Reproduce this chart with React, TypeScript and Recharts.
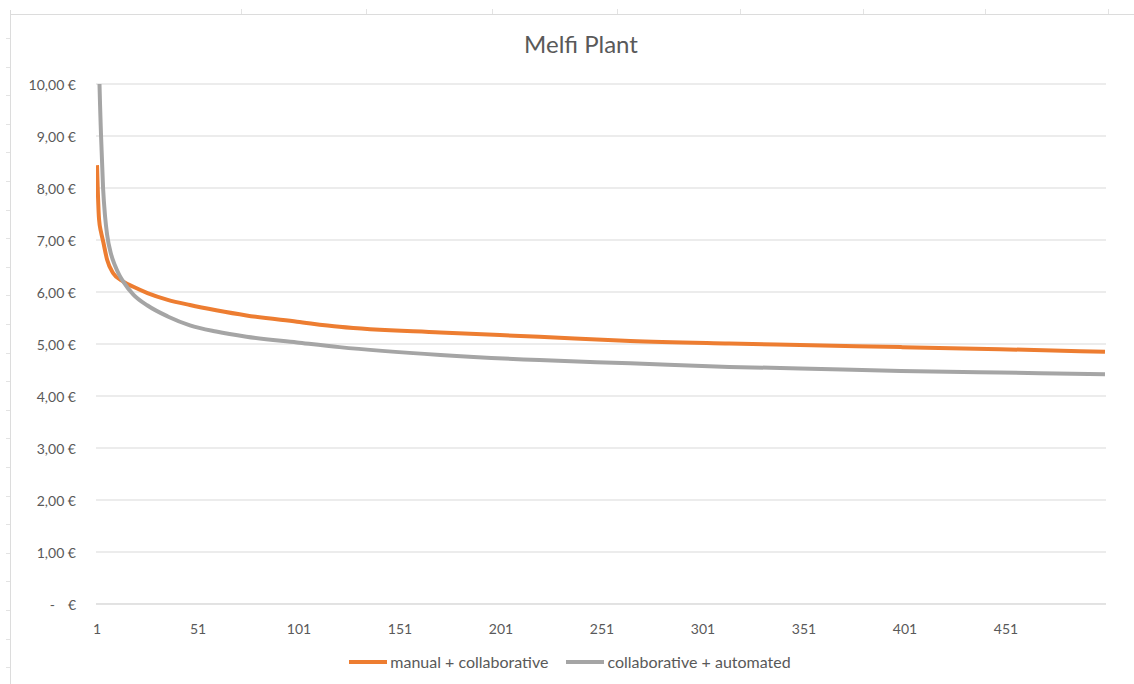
import { LineChart, Line, XAxis, YAxis, CartesianGrid, Legend } from "recharts";

// unit cost per piece, sampled along the production run (piece number)
const ORANGE = "#ED7D31";
const GREY = "#A5A5A5";
const TEXT = "#595959";
const FONT = "Lato, 'Open Sans', sans-serif";

const manualPieces = [1, 2, 3, 4, 6, 9, 14, 19, 26, 36, 47, 60, 75, 100, 121, 171, 220, 265, 314, 349, 399, 448, 500];
const manualCost = [8.44, 7.4, 7.15, 6.98, 6.62, 6.36, 6.2, 6.1, 5.98, 5.85, 5.75, 5.65, 5.55, 5.43, 5.33, 5.22, 5.14, 5.06, 5.01, 4.98, 4.94, 4.9, 4.85];

const autoPieces = [1, 2, 3, 4, 5, 6, 8, 10, 12, 14, 19, 26, 36, 47, 60, 75, 100, 121, 171, 220, 265, 314, 349, 399, 448, 500];
const autoCost = [13.0, 10.4, 9.0, 8.0, 7.45, 7.1, 6.72, 6.5, 6.33, 6.2, 5.95, 5.74, 5.53, 5.36, 5.24, 5.14, 5.03, 4.94, 4.79, 4.69, 4.63, 4.56, 4.53, 4.48, 4.45, 4.42];

const xTicks = [1, 51, 101, 151, 201, 251, 301, 351, 401, 451];
const yTicks = [0, 1, 2, 3, 4, 5, 6, 7, 8, 9, 10];
const seriesOrder = ["manual + collaborative", "collaborative + automated"];

const manualData = manualPieces.map((n, i) => ({ piece: n, cost: manualCost[i] }));
const autoData = autoPieces.map((n, i) => ({ piece: n, cost: autoCost[i] }));

function YTick({ x, y, payload }: any) {
  const v = payload.value as number;
  if (v === 0) {
    return (
      <g fontFamily={FONT} fontSize={14} fill={TEXT}>
        <text x={x - 21} y={y} dominantBaseline="central" textAnchor="end">-</text>
        <text x={x} y={y} dominantBaseline="central" textAnchor="end">€</text>
      </g>
    );
  }
  return (
    <text x={x} y={y} dominantBaseline="central" textAnchor="end"
      fontFamily={FONT} fontSize={14} fill={TEXT}>
      {v.toFixed(2).replace(".", ",")} €
    </text>
  );
}

function XTick({ x, y, payload }: any) {
  return (
    <text x={x} y={y} dominantBaseline="central" textAnchor="middle"
      fontFamily={FONT} fontSize={14} fill={TEXT}>
      {payload.value}
    </text>
  );
}

function LegendContent({ payload }: any) {
  const items = [...(payload || [])].sort(
    (a: any, b: any) => seriesOrder.indexOf(a.value) - seriesOrder.indexOf(b.value)
  );
  return (
    <div style={{ display: "flex", justifyContent: "center", gap: 18, paddingLeft: 6, fontFamily: FONT, fontSize: 16, color: TEXT }}>
      {items.map((p: any) => (
        <div key={p.value} style={{ display: "flex", alignItems: "center" }}>
          <span style={{ display: "inline-block", width: 38, height: 4, background: p.color, marginRight: 3 }} />
          <span>{p.value}</span>
        </div>
      ))}
    </div>
  );
}

// faint spreadsheet cell edges around the chart object
const colEdges = [241, 366, 492, 617, 740, 863, 985, 1108];
const rowEdges = Array.from({ length: 23 }, (_, i) => 38 + i * 28.6);

export default function App() {
  return (
    <div style={{ position: "absolute", left: 0, top: 0, width: 1134, height: 684, background: "#fff" }}>
      <div style={{ position: "absolute", left: 10, top: 14, width: 1124, height: 0, borderTop: "1px solid #dcdcdc" }} />
      <div style={{ position: "absolute", left: 10, top: 10, width: 0, height: 674, borderLeft: "1px solid #dcdcdc" }} />
      {colEdges.map((cx) => (
        <div key={cx} style={{ position: "absolute", left: cx, top: 9, width: 0, height: 5, borderLeft: "1px solid #e3e3e3" }} />
      ))}
      {rowEdges.map((ry) => (
        <div key={ry} style={{ position: "absolute", left: 6, top: ry, width: 4, height: 0, borderTop: "1px solid #e3e3e3" }} />
      ))}
      <div style={{ position: "absolute", left: 14, top: 29, width: 1134, textAlign: "center", fontFamily: FONT, fontSize: 24, color: TEXT }}>
        Melfi Plant
      </div>
      <LineChart width={1134} height={684} margin={{ top: 84, right: 28, bottom: 50, left: 10 }}>
        <CartesianGrid vertical={false} stroke="#d9d9d9" strokeWidth={1} />
        <XAxis
          dataKey="piece"
          type="number"
          domain={[0.5, 500.5]}
          ticks={xTicks}
          allowDataOverflow
          height={30}
          tickSize={0}
          tickMargin={24}
          tickLine={false}
          axisLine={{ stroke: "#d9d9d9" }}
          tick={<XTick />}
        />
        <YAxis
          type="number"
          domain={[0, 10]}
          ticks={yTicks}
          allowDataOverflow
          width={86}
          tickSize={0}
          tickMargin={20}
          tickLine={false}
          axisLine={false}
          tick={<YTick />}
        />
        <Legend
          layout="horizontal"
          verticalAlign="middle"
          align="center"
          wrapperStyle={{ top: 652, left: 0, width: 1134 }}
          content={<LegendContent />}
        />
        <Line data={manualData} dataKey="cost" name="manual + collaborative" type="monotone"
          stroke={ORANGE} strokeWidth={4} dot={false} isAnimationActive={false} />
        <Line data={autoData} dataKey="cost" name="collaborative + automated" type="monotone"
          stroke={GREY} strokeWidth={4} dot={false} isAnimationActive={false} />
      </LineChart>
    </div>
  );
}
